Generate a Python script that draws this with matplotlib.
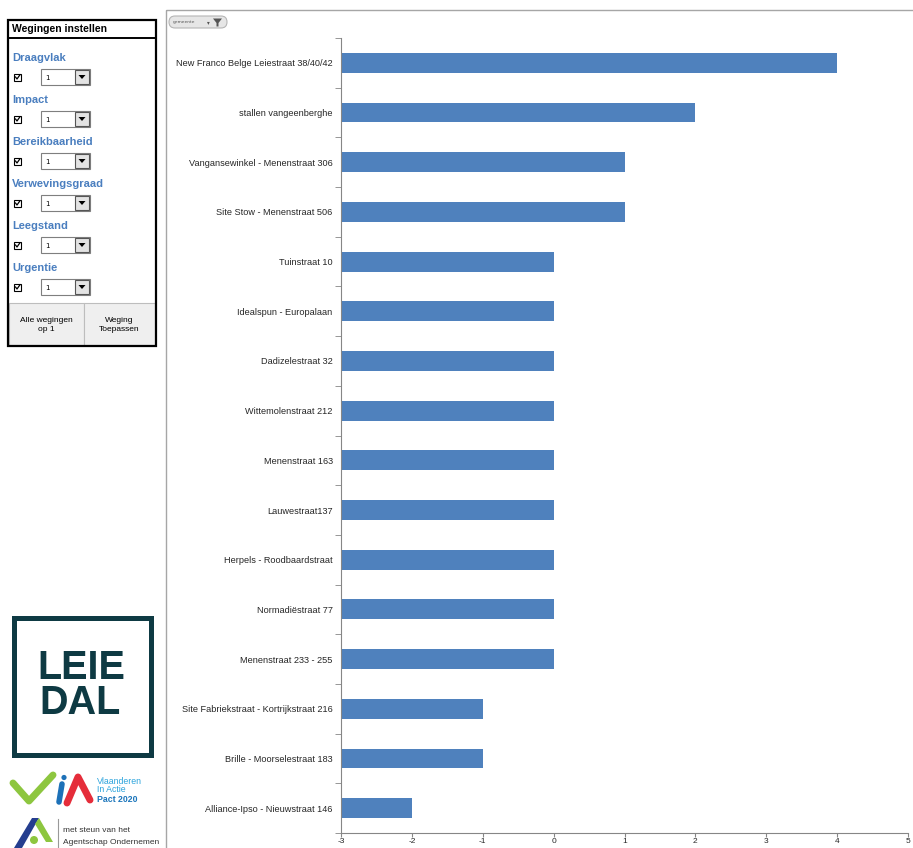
import matplotlib
matplotlib.use('Agg')
import matplotlib.pyplot as plt
from matplotlib.patches import Rectangle, FancyBboxPatch, Polygon, Circle
import numpy as np

# data from the chart
locaties = ["New Franco Belge Leiestraat 38/40/42", "stallen vangeenberghe",
            "Vangansewinkel - Menenstraat 306", "Site Stow - Menenstraat 506",
            "Tuinstraat 10", "Idealspun - Europalaan", "Dadizelestraat 32",
            "Wittemolenstraat 212", "Menenstraat 163", "Lauwestraat137",
            "Herpels - Roodbaardstraat", "Normadiëstraat 77", "Menenstraat 233 - 255",
            "Site Fabriekstraat - Kortrijkstraat 216", "Brille - Moorselestraat 183",
            "Alliance-Ipso - Nieuwstraat 146"]
scores = [4, 2, 1, 1, 0, 0, 0, 0, 0, 0, 0, 0, 0, -1, -1, -2]
x_min = -3
x_max = 5
x_ticks = [-3, -2, -1, 0, 1, 2, 3, 4, 5]

criteria = ["Draagvlak", "Impact", "Bereikbaarheid", "Verwevingsgraad", "Leegstand", "Urgentie"]
gewichten = [1, 1, 1, 1, 1, 1]

W, H = 913, 848
blauw = '#4F81BD'
grijs = '#868686'

fig = plt.figure(figsize=(W / 100, H / 100), dpi=100)
fig.patch.set_facecolor('white')

# background layer in pixel coordinates for the panel and logos
bg = fig.add_axes([0, 0, 1, 1])
bg.set_xlim(0, W)
bg.set_ylim(H, 0)
bg.axis('off')

# chart frame + filter button
bg.add_patch(Rectangle((166, 10), 760, 850, fill=False, ec='#A6A6A6', lw=1))
bg.add_patch(FancyBboxPatch((169, 16), 58, 12, boxstyle='round,pad=0,rounding_size=6',
                            fc='#E6E6E6', ec='#B5B5B5', lw=0.8))
bg.text(173, 22.5, "gemeente", fontsize=3.2, va='center', color='#555555')
bg.add_patch(Polygon([(213, 18.5), (222, 18.5), (218.5, 23), (218.5, 26.5), (216.5, 26.5), (216.5, 23)],
                     closed=True, fc='#555555'))
bg.text(208, 22.5, "▾", fontsize=4, va='center', ha='center', color='#555555')

# "Wegingen instellen" panel
bg.add_patch(Rectangle((8, 20), 148, 326, fill=False, ec='black', lw=1.6, zorder=5))
bg.plot([8, 156], [37.5, 37.5], color='black', lw=1.4)
bg.text(12, 29.5, "Wegingen instellen", fontsize=7.5, fontweight='bold',
        family='Liberation Sans', va='center')

for i, (naam, g) in enumerate(zip(criteria, gewichten)):
    y0 = 58 + 42 * i
    c = y0 + 19
    bg.text(12, y0, naam, fontsize=8, fontweight='bold', family='Liberation Sans',
            color='#4A7EBF', va='center')
    bg.add_patch(Rectangle((14, c - 3.5), 7, 7, fc='white', ec='black', lw=0.8))
    bg.plot([15.5, 17, 19.8], [c, c + 2, c - 2], color='black', lw=0.9)
    bg.add_patch(Rectangle((41, c - 8), 49, 16, fc='white', ec='#7F7F7F', lw=0.8))
    bg.add_patch(Rectangle((75, c - 7), 14, 14, fc='#E3E3E3', ec='#555555', lw=0.8))
    bg.add_patch(Polygon([(78.5, c - 2), (85.5, c - 2), (82, c + 2)], closed=True, fc='black'))
    bg.text(45, c + 0.5, str(g), fontsize=5, va='center')

bg.add_patch(Rectangle((9, 303), 75, 42, fc='#EFEFEF', ec='#BDBDBD', lw=0.8))
bg.add_patch(Rectangle((84, 303), 71, 42, fc='#EFEFEF', ec='#BDBDBD', lw=0.8))
bg.text(46, 325, "Alle wegingen\nop 1", fontsize=6, ha='center', va='center',
        family='Liberation Sans', linespacing=1.5)
bg.text(119, 325, "Weging\nToepassen", fontsize=6, ha='center', va='center',
        family='Liberation Sans', linespacing=1.5)

# LEIEDAL logo
donker = '#0E3A43'
bg.add_patch(Rectangle((13.5, 617.5), 137, 137, fill=False, ec=donker, lw=3.6))
bg.text(81, 679, "LEIE", fontsize=28.5, fontweight='bold', family='Liberation Sans',
        color=donker, ha='center', va='baseline')
bg.text(80, 714, "DAL", fontsize=28.5, fontweight='bold', family='Liberation Sans',
        color=donker, ha='center', va='baseline')

# VIA logo
bg.plot([13, 29, 53], [783, 801, 775], color='#8DC63F', lw=5, solid_capstyle='round')
bg.plot([62, 59], [784, 802], color='#1D71B8', lw=4, solid_capstyle='round')
bg.add_patch(Circle((64, 777.5), 2.6, fc='#1D71B8'))
bg.plot([67, 78, 90], [803, 777, 800], color='#E52D3A', lw=5, solid_capstyle='round')
bg.text(97, 781, "Vlaanderen", fontsize=6.3, family='Liberation Sans', color='#2AA3DC', va='center')
bg.text(97, 790, "In Actie", fontsize=6.3, family='Liberation Sans', color='#2AA3DC', va='center')
bg.text(97, 799, "Pact 2020", fontsize=6.3, fontweight='bold', family='Liberation Sans',
        color='#1B75BB', va='center')

# agentschap logo
bg.add_patch(Polygon([(14, 848), (32, 818), (39, 818), (22, 848)], closed=True, fc='#253E8F'))
bg.add_patch(Polygon([(39, 818), (53, 842), (46, 842), (35, 824)], closed=True, fc='#8DC63F'))
bg.add_patch(Circle((34, 840), 4, fc='#8DC63F'))
bg.plot([58, 58], [819, 848], color='#999999', lw=0.8)
bg.text(63, 830, "met steun van het", fontsize=6, family='Liberation Sans', color='#333333', va='center')
bg.text(63, 842, "Agentschap Ondernemen", fontsize=6, family='Liberation Sans', color='#333333', va='center')

# the bar chart
ax = fig.add_axes([341 / W, 15 / H, 567 / W, 795 / H])
ax.patch.set_alpha(0)
y = np.arange(len(locaties))
ax.barh(y, np.array(scores) - x_min, left=x_min, height=0.4, color=blauw)
ax.set_xlim(x_min, x_max)
ax.set_ylim(len(locaties) - 0.5, -0.5)

ax.set_yticks(y)
ax.set_yticklabels(locaties, fontsize=6.6, family='Liberation Sans', color='#262626')
ax.set_yticks(np.arange(-0.5, len(locaties)), minor=True)
ax.tick_params(axis='y', which='major', length=0, pad=6)
ax.tick_params(axis='y', which='minor', length=4, color=grijs)

ax.set_xticks(x_ticks)
ax.set_xticklabels([str(t) for t in x_ticks], fontsize=6, family='Liberation Sans', color='#262626')
ax.tick_params(axis='x', length=3, color=grijs, pad=0.5)

for s in ['top', 'right']:
    ax.spines[s].set_visible(False)
for s in ['left', 'bottom']:
    ax.spines[s].set_color(grijs)

fig.savefig('out.png', dpi=100)
